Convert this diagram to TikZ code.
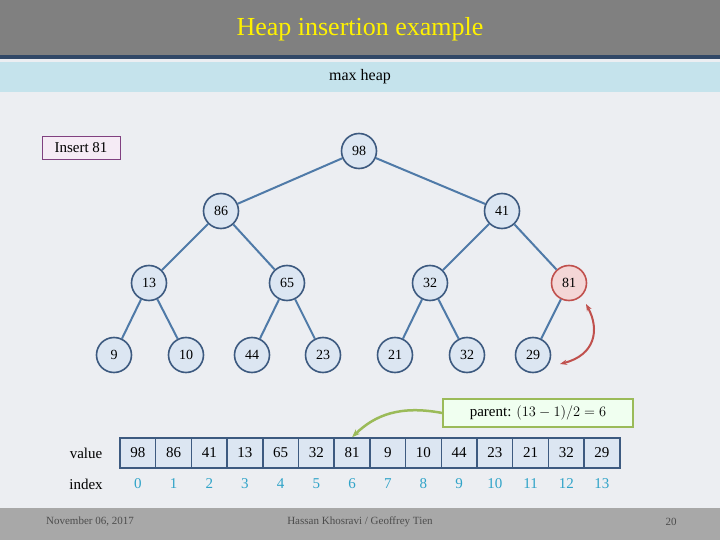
\documentclass[tikz,border=0pt]{standalone}
\usepackage{fontspec}
\setmainfont{Liberation Serif}
\usetikzlibrary{arrows.meta}
\definecolor{bodybg}{HTML}{ECEEF2}
\definecolor{edgeblue}{HTML}{4F7AA8}
\definecolor{nodefill}{HTML}{DCE6F2}
\definecolor{nodeline}{HTML}{3D5A80}
\definecolor{redfill}{HTML}{F4D6D6}
\definecolor{redline}{HTML}{C0504D}
\definecolor{idx}{HTML}{2FA3C8}
\definecolor{gbar}{HTML}{A8A8A8}
\definecolor{hdr}{HTML}{808080}
\definecolor{band}{HTML}{C5E3EC}
\definecolor{greenline}{HTML}{9BBB59}
\tikzset{
 hn/.style={circle,draw=nodeline,fill=nodefill,line width=1.6pt,minimum size=35pt,inner sep=0pt,font=\fontsize{14}{16}\selectfont},
 rn/.style={hn,draw=redline,fill=redfill},
 ed/.style={draw=edgeblue,line width=2pt},
 cell/.style={draw=nodeline,fill=nodefill,line width=1.5pt,minimum width=35.7pt,minimum height=30pt,inner sep=0pt,font=\fontsize{15}{17}\selectfont},
 ix/.style={text=idx,font=\fontsize{15}{17}\selectfont},
 lab/.style={font=\fontsize{15}{17}\selectfont}
}
\begin{document}
\begin{tikzpicture}[x=1pt,y=-1pt]
\useasboundingbox (0,0) rectangle (720,540);
\fill[bodybg] (0,0) rectangle (720,540);
\fill[hdr] (0,0) rectangle (720,55);
\fill[nodeline!80!black] (0,55) rectangle (720,59);
\fill[band] (0,62) rectangle (720,92);
\fill[gbar] (0,508) rectangle (720,540);
\node[text=yellow,font=\fontsize{26}{30}\selectfont] (title) at (360,29) {Heap insertion example};
\node[font=\fontsize{16}{18}\selectfont] (mh) at (360,77) {max heap};
\node[draw=violet!50!gray,fill=violet!8,line width=1pt,minimum width=78pt,minimum height=23pt,font=\fontsize{15}{17}\selectfont] (ins) at (81,148) {Insert 81};
\node[hn] (a) at (359,151) {98};
\node[hn] (b) at (221,211) {86};
\node[hn] (c) at (502,211) {41};
\node[hn] (d) at (149,283) {13};
\node[hn] (e) at (287,283) {65};
\node[hn] (f) at (430,283) {32};
\node[rn] (g) at (569,283) {81};
\node[hn] (h) at (114,355) {9};
\node[hn] (i) at (186,355) {10};
\node[hn] (j) at (252,355) {44};
\node[hn] (k) at (323,355) {23};
\node[hn] (l) at (395,355) {21};
\node[hn] (m) at (467,355) {32};
\node[hn] (n) at (533,355) {29};
\begin{scope}[on background layer/.style={}]
\foreach \p/\q in {a/b,a/c,b/d,b/e,c/f,c/g,d/h,d/i,e/j,e/k,f/l,f/m,g/n} \draw[ed] (\p) -- (\q);
\end{scope}
\coordinate (r1) at (586,304);
\coordinate (r2) at (560,364);
\draw[redline,line width=2pt,{Stealth[length=7pt]}-{Stealth[length=7pt]}] (r1) .. controls (600,330) and (595,355) .. (r2);
\node[lab] (vl) at (86,453) {value};
\node[lab] (il) at (86,484) {index};
\foreach \v [count=\i from 0] in {98,86,41,13,65,32,81,9,10,44,23,21,32,29} {
 \node[cell] (c\i) at (137.85+35.7*\i,453) {\v};
 \node[ix] (x\i) at (137.85+35.7*\i,484) {\i};
}
\node[draw=greenline,fill=green!6!white,line width=1.5pt,minimum width=190pt,minimum height=28pt,font=\fontsize{15}{17}\selectfont] (par) at (538,413) {parent: $(13-1)/2=6$};
\draw[greenline,line width=2.5pt,-{Stealth[length=8pt]}] (par.west) .. controls (400,405) and (375,415) .. (c6.north);
\node[font=\fontsize{11}{13}\selectfont,text=black!70] (f1) at (90,522) {November 06, 2017};
\node[font=\fontsize{11}{13}\selectfont,text=black!70] (f2) at (360,522) {Hassan Khosravi / Geoffrey Tien};
\node[font=\fontsize{11}{13}\selectfont,text=black!70] (f3) at (671,522) {20};
\end{tikzpicture}
\end{document}
